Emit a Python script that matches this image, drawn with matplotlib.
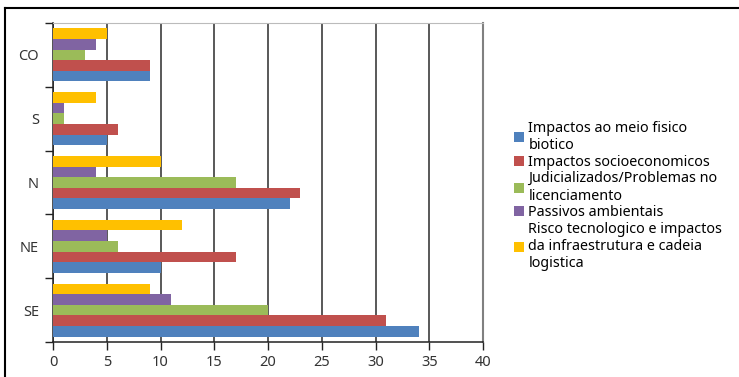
import numpy as np
import matplotlib.pyplot as plt
from matplotlib.lines import Line2D

plt.rcParams["font.family"] = ["Noto Sans", "DejaVu Sans"]

regions = ["SE", "NE", "N", "S", "CO"]
series_labels = [
    "Impactos ao meio fisico\nbiotico",
    "Impactos socioeconomicos",
    "Judicializados/Problemas no\nlicenciamento",
    "Passivos ambientais",
    "Risco tecnologico e impactos\nda infraestrutura e cadeia\nlogistica",
]
meio_fisico = [34, 10, 22, 5, 9]
socioeconomicos = [31, 17, 23, 6, 9]
judicializados = [20, 6, 17, 1, 3]
passivos = [11, 5, 4, 1, 4]
risco_tecnologico = [9, 12, 10, 4, 5]
series_values = [meio_fisico, socioeconomicos, judicializados, passivos, risco_tecnologico]
colors = ["#4F81BD", "#C0504D", "#9BBB59", "#8064A2", "#FFC000"]
x_ticks = [0, 5, 10, 15, 20, 25, 30, 35, 40]

fig = plt.figure(figsize=(7.39, 3.77), dpi=100)
ax = fig.add_axes([53 / 739, 1 - 342 / 377, 430 / 739, 319 / 377])

y = np.arange(len(regions))
bar_h = 1 / 6
for k, (vals, col, lab) in enumerate(zip(series_values, colors, series_labels)):
    offset = (k - 2) * bar_h
    ax.barh(y + offset, vals, height=bar_h, color=col, label=lab, zorder=3)

ax.set_xlim(0, 40)
ax.set_ylim(-0.5, len(regions) - 0.5)
ax.set_xticks(x_ticks)
ax.set_yticks(y)
ax.set_yticklabels(regions)
ax.set_yticks(np.arange(len(regions) + 1) - 0.5, minor=True)
ax.tick_params(axis="y", which="major", length=0, pad=10, labelsize=10.5, colors="#333333")
ax.tick_params(axis="y", which="minor", length=6, width=1, direction="out", color="#222222")
ax.tick_params(axis="x", length=6, width=1, direction="out", labelsize=10.5,
               colors="#222222", labelcolor="#333333")

ax.xaxis.grid(True, color="#3c3c3c", linewidth=1.2, zorder=0)
ax.set_axisbelow(True)
for side in ("left", "bottom"):
    ax.spines[side].set_color("#222222")
    ax.spines[side].set_linewidth(1.1)
ax.spines["right"].set_color("#808080")
ax.spines["right"].set_linewidth(1.5)
ax.spines["top"].set_color("#bbbbbb")
ax.spines["top"].set_linewidth(0.8)

handles, labels = ax.get_legend_handles_labels()
fig.legend(handles, labels, loc="center left", bbox_to_anchor=(507 / 739, 1 - 196 / 377),
           frameon=False, fontsize=10.3, handlelength=0.7, handleheight=0.7,
           handletextpad=0.3, labelspacing=0.12, borderpad=0)

# outer frame lines (top and left)
fig.add_artist(Line2D([5 / 739, 1], [1 - 8 / 377, 1 - 8 / 377], color="black", lw=1.5))
fig.add_artist(Line2D([5 / 739, 5 / 739], [0, 1 - 8 / 377], color="black", lw=1.5))

fig.savefig("out.png", dpi=100)
